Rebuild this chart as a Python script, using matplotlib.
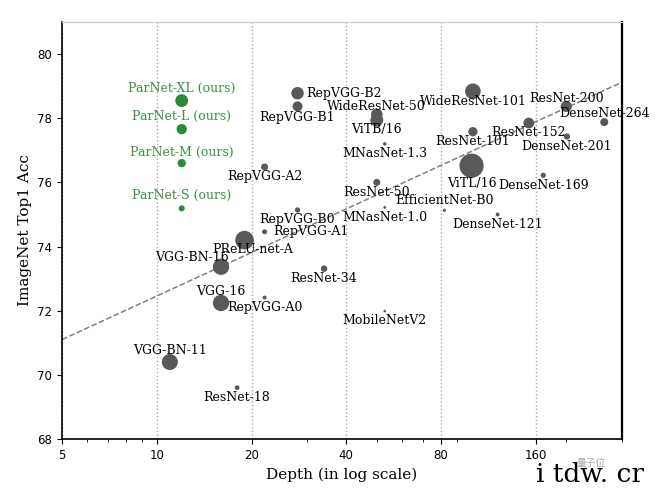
import numpy as np
import matplotlib
matplotlib.use("Agg")
import matplotlib.pyplot as plt
from matplotlib.ticker import FixedLocator, FixedFormatter, LogLocator, NullFormatter

# ---- data ----
ours_names = ["ParNet-XL (ours)", "ParNet-L (ours)", "ParNet-M (ours)", "ParNet-S (ours)"]
ours_depth = [12, 12, 12, 12]
ours_acc = [78.55, 77.66, 76.60, 75.19]
ours_params = [85.0, 54.9, 35.6, 19.0]

names = ["RepVGG-B2", "RepVGG-B1", "RepVGG-A2", "RepVGG-B0", "RepVGG-A1", "RepVGG-A0",
         "PReLU-net-A", "VGG-BN-16", "VGG-16", "VGG-BN-11",
         "ResNet-18", "ResNet-34", "ResNet-50", "ResNet-101", "ResNet-152", "ResNet-200",
         "DenseNet-121", "DenseNet-169", "DenseNet-201", "DenseNet-264",
         "EfficientNet-B0", "MNasNet-1.0", "MNasNet-1.3", "MobileNetV2",
         "WideResNet-50", "WideResNet-101", "ViTB/16", "ViTL/16"]
depth = [28, 28, 22, 28, 22, 22,
         19, 16, 16, 11,
         18, 34, 50, 101, 152, 200,
         121, 169, 201, 264,
         82, 53, 53, 53,
         50, 101, 50, 100]
acc = [78.78, 78.37, 76.48, 75.14, 74.46, 72.41,
       74.20, 73.37, 72.24, 70.40,
       69.60, 73.31, 76.00, 77.58, 77.85, 78.37,
       75.00, 76.22, 77.43, 77.88,
       75.13, 75.22, 77.20, 71.99,
       78.12, 78.84, 77.94, 76.52]
params = [80.3, 51.8, 25.5, 14.3, 12.8, 8.3,
          180.0, 138.4, 138.4, 132.9,
          11.7, 21.8, 25.6, 44.5, 60.2, 64.7,
          8.0, 14.1, 20.0, 33.3,
          5.3, 4.4, 6.3, 3.5,
          68.9, 126.9, 86.0, 304.0]

trend_depth = [5, 300]
trend_acc = [71.1, 79.12]

x_ticks = [5, 10, 20, 40, 80, 160]
y_ticks = [68, 70, 72, 74, 76, 78, 80]

# label offsets in points (dx, dy, ha)
ours_offsets = [(0, 9), (0, 9), (0, 8), (0, 9)]
label_offsets = {
    "RepVGG-B2": (6, 0, "left"), "RepVGG-B1": (0, -8, "center"),
    "RepVGG-A2": (0, -7, "center"), "RepVGG-B0": (0, -7, "center"),
    "RepVGG-A1": (6, 0, "left"), "RepVGG-A0": (0, -7, "center"),
    "PReLU-net-A": (6, -7, "center"), "VGG-BN-16": (-21, 7, "center"),
    "VGG-16": (0, 8, "center"), "VGG-BN-11": (0, 8, "center"),
    "ResNet-18": (0, -7, "center"), "ResNet-34": (0, -7, "center"),
    "ResNet-50": (0, -7, "center"), "ResNet-101": (0, -7, "center"),
    "ResNet-152": (0, -7, "center"), "ResNet-200": (0, 6, "center"),
    "DenseNet-121": (0, -7, "center"), "DenseNet-169": (0, -7, "center"),
    "DenseNet-201": (0, -7, "center"), "DenseNet-264": (0, 6, "center"),
    "EfficientNet-B0": (0, 7, "center"), "MNasNet-1.0": (0, -7, "center"),
    "MNasNet-1.3": (0, -7, "center"), "MobileNetV2": (0, -7, "center"),
    "WideResNet-50": (0, 6, "center"), "WideResNet-101": (0, -7, "center"),
    "ViTB/16": (0, -7, "center"), "ViTL/16": (0, -13, "center"),
}

fig = plt.figure(figsize=(6.6, 5.0), dpi=100)
ax = fig.add_axes([0.094, 0.122, 0.848, 0.834])

ax.set_xscale("log")
ax.set_xlim(5, 300)
ax.set_ylim(68, 81)

ax.plot(trend_depth, trend_acc, ls="--", color="gray", lw=1.1, zorder=1)

ax.scatter(depth, acc, s=params, color="#595959", zorder=3, linewidths=0)
ax.scatter(ours_depth, ours_acc, s=ours_params, color="#2a8a3a", zorder=3, linewidths=0)

for n, d, a in zip(names, depth, acc):
    dx, dy, ha = label_offsets[n]
    ax.annotate(n, (d, a), xytext=(dx, dy), textcoords="offset points",
                ha=ha, va="center", fontsize=9, family="DejaVu Serif", color="black", zorder=4)
for n, d, a, (dx, dy) in zip(ours_names, ours_depth, ours_acc, ours_offsets):
    ax.annotate(n, (d, a), xytext=(dx, dy), textcoords="offset points",
                ha="center", va="center", fontsize=9, family="DejaVu Serif",
                color="#3c8f46", zorder=4)

ax.xaxis.set_major_locator(FixedLocator(x_ticks))
ax.xaxis.set_major_formatter(FixedFormatter([str(t) for t in x_ticks]))
ax.xaxis.set_minor_locator(LogLocator(base=10, subs=np.arange(2, 10)))
ax.xaxis.set_minor_formatter(NullFormatter())
ax.set_yticks(y_ticks)
ax.tick_params(axis="both", labelsize=8.5, direction="out", length=3.5)
ax.tick_params(axis="x", which="minor", length=2)
ax.tick_params(top=False, right=False)

ax.grid(axis="x", which="major", ls=":", color="#aaaaaa", lw=1.0)
ax.set_axisbelow(True)

ax.spines["top"].set_color("#c8c8c8")
ax.spines["right"].set_linewidth(1.6)
for s in ["left", "bottom"]:
    ax.spines[s].set_linewidth(1.2)

ax.set_xlabel("Depth (in log scale)", family="DejaVu Serif", fontsize=11)
ax.set_ylabel("ImageNet Top1 Acc", family="DejaVu Serif", fontsize=11)

# watermark
fig.text(0.812, 0.035, "i tdw. cr", family="DejaVu Serif", fontsize=19, color="black")
fig.text(0.873, 0.068, "量子位", family=["Noto Sans CJK SC", "DejaVu Sans"], fontsize=7,
         color="#aaaaaa")

fig.savefig("out.png", dpi=100)
